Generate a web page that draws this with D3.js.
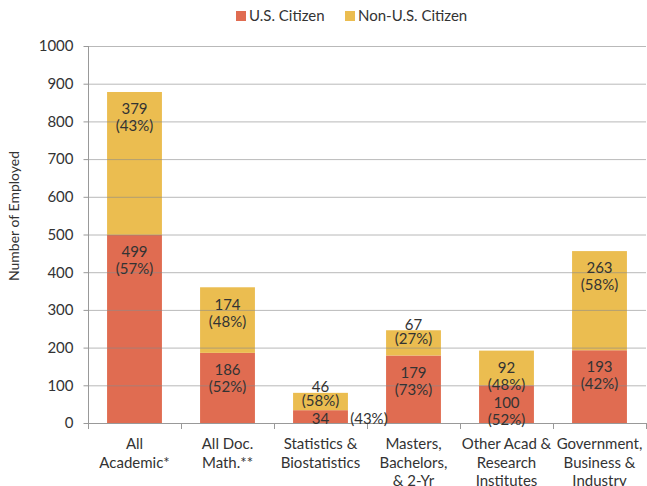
<!DOCTYPE html>
<html><head><meta charset="utf-8">
<script src="https://cdn.jsdelivr.net/npm/d3@7"></script>
<style>body{margin:0;background:#fff}svg{display:block;font-family:Lato,"Open Sans",sans-serif}</style>
</head><body><svg id="c" width="647" height="486"></svg>
<script>
const categories = [
  ["All","Academic*"],
  ["All Doc.","Math.**"],
  ["Statistics &","Biostatistics"],
  ["Masters,","Bachelors,","& 2-Yr"],
  ["Other Acad &","Research","Institutes"],
  ["Government,","Business &","Industry"]
];
const usCitizen = [499, 186, 34, 179, 100, 193];
const nonUsCitizen = [379, 174, 46, 67, 92, 263];
const usPct = ["(57%)","(52%)","(43%)","(73%)","(52%)","(42%)"];
const nonUsPct = ["(43%)","(48%)","(58%)","(27%)","(48%)","(58%)"];
const seriesNames = ["U.S. Citizen","Non-U.S. Citizen"];
const yTicks = [0,100,200,300,400,500,600,700,800,900,1000];

const colors = ["#E06C51","#EBBD50"];
const svg = d3.select("#c");
const x = d3.scaleBand().domain(d3.range(categories.length)).range([88,646]).paddingInner(0.41).paddingOuter(0.205);
const y = d3.scaleLinear().domain([0,1000]).range([423,46]);
const textColor = "#333";

// bars
const stacks = categories.map((c,i)=>[
  {s:0,v0:0,v1:usCitizen[i],val:usCitizen[i],pct:usPct[i],i},
  {s:1,v0:usCitizen[i],v1:usCitizen[i]+nonUsCitizen[i],val:nonUsCitizen[i],pct:nonUsPct[i],i}
]).flat();

svg.append("g").selectAll("rect").data(stacks).join("rect")
  .attr("x",d=>x(d.i)).attr("width",x.bandwidth())
  .attr("y",d=>y(d.v1)).attr("height",d=>y(d.v0)-y(d.v1))
  .attr("fill",d=>colors[d.s]);

// gridlines over bars
svg.append("g").selectAll("line").data(yTicks.filter(t=>t>0)).join("line")
  .attr("x1",88).attr("x2",646).attr("y1",d=>y(d)+0.5).attr("y2",d=>y(d)+0.5)
  .attr("stroke","#8a8a8a").attr("stroke-opacity",0.6).attr("stroke-width",1);

// y axis
const yAxis = svg.append("g").attr("transform","translate(88.5,0)")
  .call(d3.axisLeft(y).tickValues(yTicks).tickSize(5).tickPadding(10).tickFormat(d3.format("d")));
yAxis.select(".domain").attr("stroke","#999").attr("d","M0,"+y(1000)+"V"+y(0));
yAxis.selectAll(".tick line").attr("stroke","#999");
yAxis.selectAll("text").attr("font-size",15).attr("fill",textColor).attr("font-family","Lato");

// x axis
svg.append("line").attr("x1",88).attr("x2",646).attr("y1",y(0)+0.5).attr("y2",y(0)+0.5).attr("stroke","#999");
const bounds = d3.range(categories.length+1).map(k=>88+k*x.step());
svg.append("g").selectAll("line").data(bounds).join("line")
  .attr("x1",d=>Math.round(d)+0.5).attr("x2",d=>Math.round(d)+0.5)
  .attr("y1",y(0)).attr("y2",y(0)+6).attr("stroke","#999");

const catG = svg.append("g").selectAll("text").data(categories).join("text")
  .attr("text-anchor","middle").attr("font-size",15).attr("fill",textColor)
  .attr("x",(d,i)=>x(i)+x.bandwidth()/2).attr("y",449);
catG.selectAll("tspan").data(d=>d).join("tspan")
  .attr("x",function(){return this.parentNode.getAttribute("x");})
  .attr("dy",(d,k)=>k===0?0:18.5).text(d=>d);

// data labels
const lab = svg.append("g").attr("font-size",15).attr("fill",textColor).attr("text-anchor","middle");
stacks.forEach(d=>{
  const cx = x(d.i)+x.bandwidth()/2;
  const top = y(d.v1), h = y(d.v0)-y(d.v1);
  if (h >= 30) {
    lab.append("text").attr("x",cx).attr("y",top+17).attr("dy","0.35em").text(d.val);
    lab.append("text").attr("x",cx).attr("y",top+34).attr("dy","0.35em").text(d.pct);
  } else if (h >= 15) {
    lab.append("text").attr("x",cx).attr("y",top-6).attr("dy","0.35em").text(d.val);
    lab.append("text").attr("x",cx).attr("y",top+8).attr("dy","0.35em").text(d.pct);
  } else {
    lab.append("text").attr("x",cx).attr("y",top+h/2+2).attr("dy","0.35em").text(d.val);
    lab.append("text").attr("x",x(d.i)+x.bandwidth()+21).attr("y",top+h/2+2).attr("dy","0.35em").text(d.pct);
  }
});

// y axis title
svg.append("text").attr("transform","translate(19,216) rotate(-90)")
  .attr("text-anchor","middle").attr("font-size",14).attr("fill",textColor).text("Number of Employed");

// legend
const leg = svg.append("g").attr("font-size",15).attr("fill",textColor);
const legX = [236, 345];
seriesNames.forEach((n,k)=>{
  leg.append("rect").attr("x",legX[k]).attr("y",11).attr("width",10).attr("height",10).attr("fill",colors[k]);
  leg.append("text").attr("x",legX[k]+13).attr("y",16).attr("dy","0.35em").text(n);
});
</script></body></html>
